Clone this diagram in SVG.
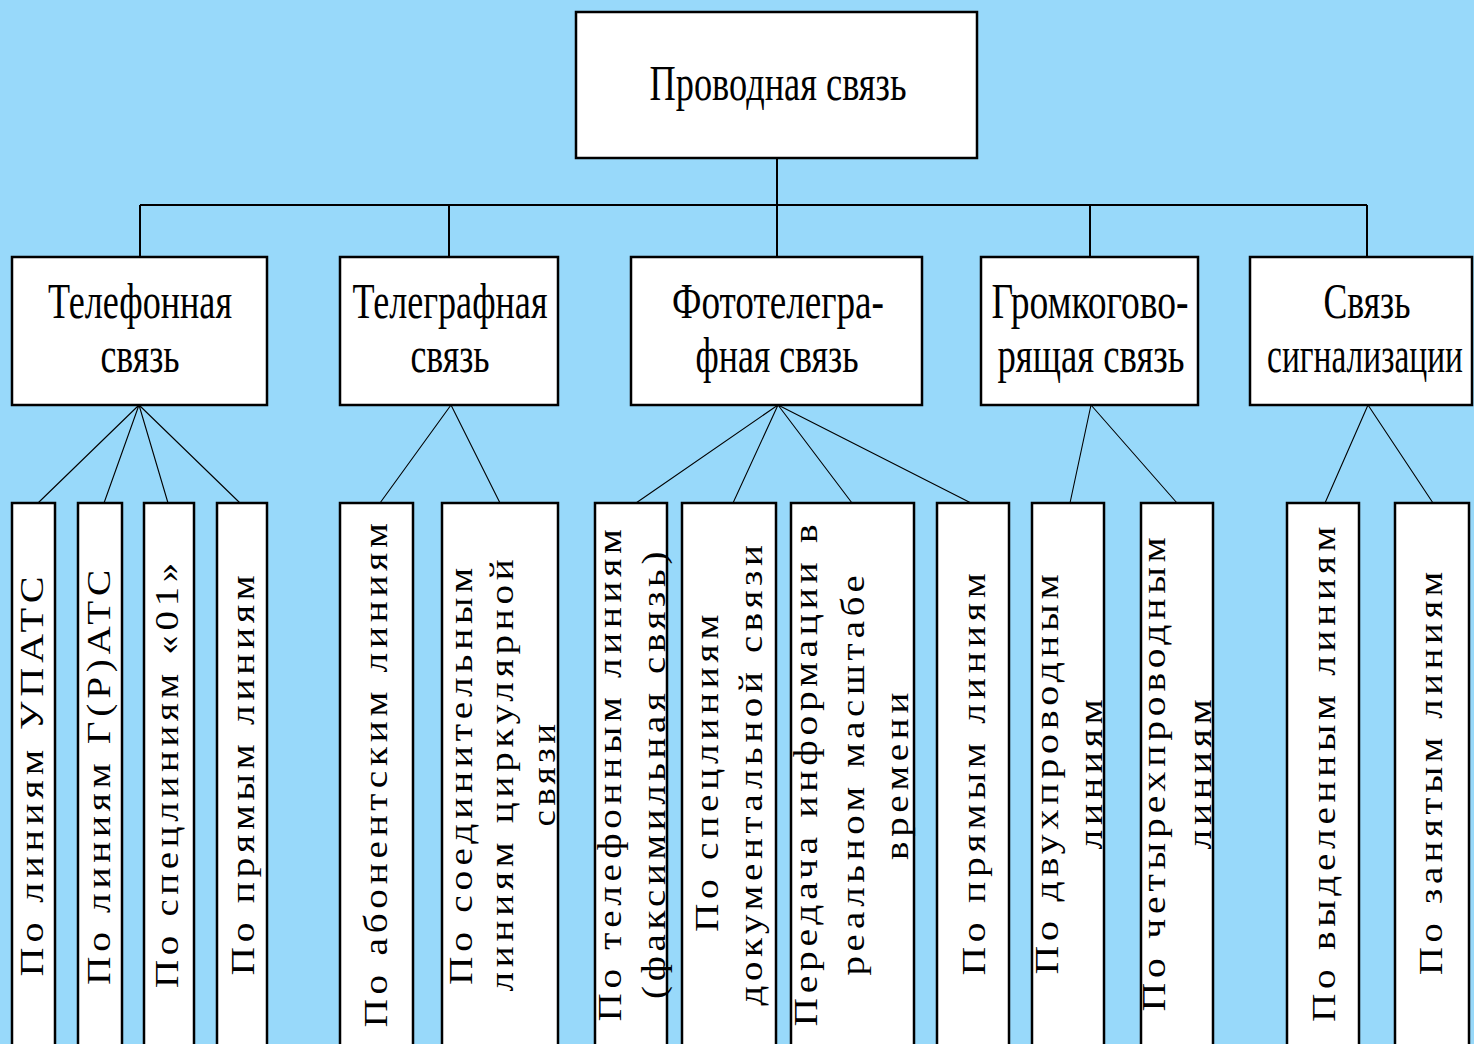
<svg xmlns="http://www.w3.org/2000/svg" width="1474" height="1044" viewBox="0 0 1474 1044">
<style>
.box{fill:#ffffff;stroke:#000000;stroke-width:2.5}
.bus{fill:none;stroke:#000000;stroke-width:2}
.thin{fill:none;stroke:#000000;stroke-width:1.1}
.h{font-family:"Liberation Serif","Times New Roman",serif;font-size:50px;fill:#000;text-anchor:middle}
.v{font-family:"Liberation Serif","Times New Roman",serif;font-size:33px;fill:#000;text-anchor:middle;letter-spacing:4px}
</style>
<rect width="1474" height="1044" fill="#98D9FA"/>
<g id="connectors">
<path class="bus" d="M777 158V257M140 205H1367M140 205V257M449 205V257M1090 205V257M1367 205V257"/>
<path class="thin" d="M139 405L38 503M139 405L104 503M139 405L168 503M139 405L240 503"/>
<path class="thin" d="M451 405L380 503M451 405L500 503"/>
<path class="thin" d="M778 405L636 503M778 405L733 503M778 405L852 503M778 405L971 503"/>
<path class="thin" d="M1091 405L1070 503M1091 405L1177 503"/>
<path class="thin" d="M1368 405L1325 503M1368 405L1433 503"/>
</g>
<g id="root"><rect class="box" x="576" y="12" width="401" height="146"/><text class="h" x="778" y="100" textLength="257" lengthAdjust="spacingAndGlyphs">Проводная связь</text></g>
<g id="n-tel"><rect class="box" x="12" y="257" width="255" height="148"/><text class="h" x="140" y="318" textLength="184" lengthAdjust="spacingAndGlyphs">Телефонная</text><text class="h" x="140" y="372" textLength="79" lengthAdjust="spacingAndGlyphs">связь</text></g>
<g id="n-tgr"><rect class="box" x="340" y="257" width="218" height="148"/><text class="h" x="450" y="318" textLength="195" lengthAdjust="spacingAndGlyphs">Телеграфная</text><text class="h" x="450" y="372" textLength="79" lengthAdjust="spacingAndGlyphs">связь</text></g>
<g id="n-foto"><rect class="box" x="631" y="257" width="291" height="148"/><text class="h" x="778" y="318" textLength="212" lengthAdjust="spacingAndGlyphs">Фототелегра-</text><text class="h" x="777" y="372" textLength="163" lengthAdjust="spacingAndGlyphs">фная связь</text></g>
<g id="n-grom"><rect class="box" x="981" y="257" width="217" height="148"/><text class="h" x="1090" y="318" textLength="197" lengthAdjust="spacingAndGlyphs">Громкогово-</text><text class="h" x="1091" y="372" textLength="187" lengthAdjust="spacingAndGlyphs">рящая связь</text></g>
<g id="n-sig"><rect class="box" x="1250" y="257" width="222" height="148"/><text class="h" x="1367" y="318" textLength="87" lengthAdjust="spacingAndGlyphs">Связь</text><text class="h" transform="translate(1365 372) scale(0.671 1)" x="0" y="0" textLength="292" lengthAdjust="spacingAndGlyphs">сигнализации</text></g>

<g id="l1"><rect class="box" x="12" y="503" width="43" height="560"/><text class="v" transform="translate(43 774) rotate(-90)" textLength="405" lengthAdjust="spacingAndGlyphs">По линиям УПАТС</text></g>
<g id="l2"><rect class="box" x="78" y="503" width="44" height="560"/><text class="v" transform="translate(110 775) rotate(-90)" textLength="420" lengthAdjust="spacingAndGlyphs">По линиям Г(Р)АТС</text></g>
<g id="l3"><rect class="box" x="144" y="503" width="50" height="560"/><text class="v" transform="translate(178 773) rotate(-90)" textLength="430" lengthAdjust="spacingAndGlyphs">По спецлиниям «01»</text></g>
<g id="l4"><rect class="box" x="217" y="503" width="50" height="560"/><text class="v" transform="translate(254 773) rotate(-90)" textLength="405" lengthAdjust="spacingAndGlyphs">По прямым линиям</text></g>
<g id="l5"><rect class="box" x="340" y="503" width="73" height="560"/><text class="v" transform="translate(387 773) rotate(-90)" textLength="509" lengthAdjust="spacingAndGlyphs">По абонентским линиям</text></g>
<g id="l6"><rect class="box" x="442" y="503" width="116" height="560"/><text class="v" transform="translate(472 774) rotate(-90)" textLength="422" lengthAdjust="spacingAndGlyphs">По соединительным</text><text class="v" transform="translate(513 773) rotate(-90)" textLength="437" lengthAdjust="spacingAndGlyphs">линиям циркулярной</text><text class="v" transform="translate(555 773) rotate(-90)" textLength="107" lengthAdjust="spacingAndGlyphs">связи</text></g>
<g id="l7"><rect class="box" x="595" y="503" width="72" height="560"/><text class="v" transform="translate(621 773) rotate(-90)" textLength="497" lengthAdjust="spacingAndGlyphs">По телефонным линиям</text><text class="v" transform="translate(665 773) rotate(-90)" textLength="452" lengthAdjust="spacingAndGlyphs">(факсимильная связь)</text></g>
<g id="l8"><rect class="box" x="682" y="503" width="94" height="560"/><text class="v" transform="translate(718 771) rotate(-90)" textLength="322" lengthAdjust="spacingAndGlyphs">По спецлиниям</text><text class="v" transform="translate(762 773) rotate(-90)" textLength="465" lengthAdjust="spacingAndGlyphs">документальной связи</text></g>
<g id="l9"><rect class="box" x="791" y="503" width="123" height="560"/><text class="v" transform="translate(817 773) rotate(-90)" textLength="507" lengthAdjust="spacingAndGlyphs">Передача информации в</text><text class="v" transform="translate(864 773) rotate(-90)" textLength="405" lengthAdjust="spacingAndGlyphs">реальном масштабе</text><text class="v" transform="translate(908 774) rotate(-90)" textLength="172" lengthAdjust="spacingAndGlyphs">времени</text></g>
<g id="l10"><rect class="box" x="937" y="503" width="72" height="560"/><text class="v" transform="translate(985 772) rotate(-90)" textLength="407" lengthAdjust="spacingAndGlyphs">По прямым линиям</text></g>
<g id="l11"><rect class="box" x="1032" y="503" width="72" height="560"/><text class="v" transform="translate(1058 772) rotate(-90)" textLength="405" lengthAdjust="spacingAndGlyphs">По двухпроводным</text><text class="v" transform="translate(1102 772) rotate(-90)" textLength="155" lengthAdjust="spacingAndGlyphs">линиям</text></g>
<g id="l12"><rect class="box" x="1141" y="503" width="72" height="560"/><text class="v" transform="translate(1165 772) rotate(-90)" textLength="479" lengthAdjust="spacingAndGlyphs">По четырехпроводным</text><text class="v" transform="translate(1211 772) rotate(-90)" textLength="155" lengthAdjust="spacingAndGlyphs">линиям</text></g>
<g id="l13"><rect class="box" x="1287" y="503" width="72" height="560"/><text class="v" transform="translate(1335 772) rotate(-90)" textLength="500" lengthAdjust="spacingAndGlyphs">По выделенным линиям</text></g>
<g id="l14"><rect class="box" x="1395" y="503" width="74" height="560"/><text class="v" transform="translate(1442 771) rotate(-90)" textLength="408" lengthAdjust="spacingAndGlyphs">По занятым линиям</text></g>
</svg>
